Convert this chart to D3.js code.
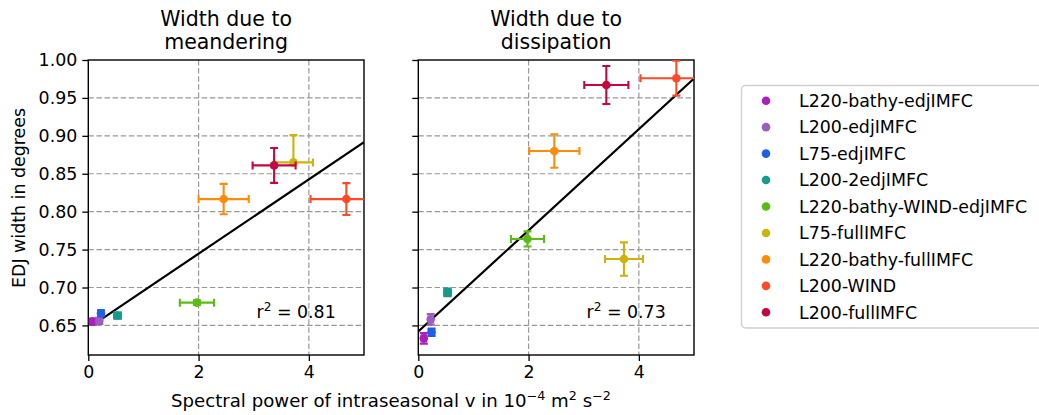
<!DOCTYPE html>
<html><head><meta charset="utf-8">
<script src="https://cdn.jsdelivr.net/npm/d3@7"></script>
<style>
body{margin:0;background:#fff;}
svg{display:block;font-family:"DejaVu Sans",sans-serif;}
</style></head>
<body><svg id="c" width="1039" height="415"></svg>
<script>
// ---- data ----
const experiments = ["L220-bathy-edjIMFC","L200-edjIMFC","L75-edjIMFC","L200-2edjIMFC","L220-bathy-WIND-edjIMFC","L75-fullIMFC","L220-bathy-fullIMFC","L200-WIND","L200-fullIMFC"];
const colors = ["#aa20bc","#9c5cc2","#1f5fe6","#159a8b","#5bbd14","#cdb30b","#ff8b0b","#fe4a28","#c5073f"];
const panelTitles = [["Width due to","meandering"],["Width due to","dissipation"]];
// spectral power (x) and EDJ width (y)
const meanderX    = [0.08,0.20,0.23,0.53,1.97,3.72,2.455,4.68,3.37];
const meanderXerr = [0.03,0.03,0.04,0.06,0.31,0.355,0.455,0.65,0.39];
const meanderY    = [0.655,0.656,0.666,0.663,0.680,0.865,0.8166,0.8166,0.861];
const meanderYerrLo = [0.004,0.004,0.004,0.004,0.003,0.002,0.020,0.021,0.023];
const meanderYerrHi = [0.004,0.004,0.004,0.004,0.003,0.036,0.020,0.021,0.023];
const dissipX    = [0.10,0.225,0.24,0.53,1.98,3.73,2.467,4.68,3.41];
const dissipXerr = [0.04,0.04,0.05,0.06,0.30,0.345,0.455,0.65,0.40];
const dissipY    = [0.633,0.658,0.641,0.6935,0.764,0.7375,0.880,0.976,0.967];
const dissipYerrLo = [0.007,0.007,0.005,0.005,0.010,0.022,0.022,0.023,0.025];
const dissipYerrHi = [0.007,0.007,0.005,0.005,0.010,0.022,0.022,0.023,0.025];
// regression lines: intercept, slope, x-range
const fitIntercept = [0.6466,0.642];
const fitSlope = [0.049,0.0667];
const fitRange = [[0.22,5],[0,5]];
const r2Labels = ["0.81","0.73"];
const r2Pos = [[3.05,0.6596],[3.05,0.6596]];
const xTicks = [0,2,4];
const yTicks = [0.65,0.70,0.75,0.80,0.85,0.90,0.95,1.00];
const xDomain = [0,5];
const yDomain = [0.611,1.0];

const panels = [
  {x:meanderX,xe:meanderXerr,y:meanderY,ylo:meanderYerrLo,yhi:meanderYerrHi},
  {x:dissipX,xe:dissipXerr,y:dissipY,ylo:dissipYerrLo,yhi:dissipYerrHi}
];

const svg = d3.select("#c");
const FS = 17.4;
const axLeft = [88.3, 418.3], axW = 275.7, axTop = 60, axH = 295;
const y = d3.scaleLinear().domain(yDomain).range([axTop+axH, axTop]);

panels.forEach((p,pi)=>{
  const x = d3.scaleLinear().domain(xDomain).range([axLeft[pi], axLeft[pi]+axW]);
  const g = svg.append("g");
  const clipId = "clip"+pi;
  svg.append("clipPath").attr("id",clipId).append("rect")
    .attr("x",axLeft[pi]).attr("y",axTop).attr("width",axW).attr("height",axH);
  // grid
  const grid = g.append("g").attr("stroke","#999").attr("stroke-width",1.2).attr("stroke-dasharray","5.5,2.6");
  xTicks.filter(t=>t>xDomain[0]).forEach(t=>grid.append("line").attr("x1",x(t)).attr("x2",x(t)).attr("y1",axTop).attr("y2",axTop+axH));
  yTicks.filter(t=>t<yDomain[1]).forEach(t=>grid.append("line").attr("x1",axLeft[pi]).attr("x2",axLeft[pi]+axW).attr("y1",y(t)).attr("y2",y(t)));
  // axes
  const xa = g.append("g").attr("transform",`translate(0,${axTop+axH})`)
    .call(d3.axisBottom(x).tickValues(xTicks).tickFormat(d3.format("d")).tickSize(6).tickPadding(5));
  const ya = g.append("g").attr("transform",`translate(${axLeft[pi]},0)`)
    .call(d3.axisLeft(y).tickValues(yTicks).tickFormat(pi===0?d3.format(".2f"):()=>"").tickSize(6).tickPadding(5));
  [xa,ya].forEach(a=>{
    a.select(".domain").remove();
    a.selectAll("line").attr("stroke","#000").attr("stroke-width",1.3);
    a.selectAll("text").attr("font-size",FS).attr("fill","#000").attr("font-family","DejaVu Sans");
  });
  // frame
  g.append("rect").attr("x",axLeft[pi]).attr("y",axTop).attr("width",axW).attr("height",axH)
    .attr("fill","none").attr("stroke","#000").attr("stroke-width",1.4);
  const plot = g.append("g").attr("clip-path",`url(#${clipId})`);
  // fit line
  plot.append("line")
    .attr("x1",x(fitRange[pi][0])).attr("y1",y(fitIntercept[pi]+fitSlope[pi]*fitRange[pi][0]))
    .attr("x2",x(fitRange[pi][1])).attr("y2",y(fitIntercept[pi]+fitSlope[pi]*fitRange[pi][1]))
    .attr("stroke","#000").attr("stroke-width",2.2);
  // error bars + markers
  const cap = 4;
  p.x.forEach((xv,i)=>{
    const c = colors[i];
    const eg = plot.append("g").attr("stroke",c).attr("stroke-width",2.1);
    const xl=x(xv-p.xe[i]), xr=x(xv+p.xe[i]), yc=y(p.y[i]);
    const yt=y(p.y[i]+p.yhi[i]), yb=y(p.y[i]-p.ylo[i]), xc=x(xv);
    eg.append("line").attr("x1",xc).attr("x2",xc).attr("y1",yt).attr("y2",yb);
    eg.append("line").attr("x1",xc-cap).attr("x2",xc+cap).attr("y1",yt).attr("y2",yt);
    eg.append("line").attr("x1",xc-cap).attr("x2",xc+cap).attr("y1",yb).attr("y2",yb);
    eg.append("line").attr("x1",xl).attr("x2",xr).attr("y1",yc).attr("y2",yc);
    eg.append("line").attr("x1",xl).attr("x2",xl).attr("y1",yc-cap).attr("y2",yc+cap);
    eg.append("line").attr("x1",xr).attr("x2",xr).attr("y1",yc-cap).attr("y2",yc+cap);
    plot.append("circle").attr("cx",xc).attr("cy",yc).attr("r",4.3).attr("fill",c);
  });
  // r^2 text
  const rt = g.append("text").attr("x",x(r2Pos[pi][0])).attr("y",y(r2Pos[pi][1]))
    .attr("font-size",FS).attr("fill","#000");
  rt.append("tspan").text("r");
  rt.append("tspan").attr("dy",-7).attr("font-size",FS*0.7).text("2");
  rt.append("tspan").attr("dy",7).text(" = "+r2Labels[pi]);
  // title
  const cx = axLeft[pi]+axW/2;
  panelTitles[pi].forEach((t,li)=>{
    svg.append("text").attr("x",cx).attr("y",26+li*22.8).attr("text-anchor","middle")
      .attr("font-size",20.5).attr("fill","#000").text(t);
  });
});

// y label
svg.append("text").attr("transform","translate(25,198) rotate(-90)").attr("text-anchor","middle")
  .attr("font-size",FS).attr("fill","#000").text("EDJ width in degrees");

// x label (condensed)
const xl = svg.append("text").attr("x",0).attr("y",0).attr("font-size",FS).attr("fill","#000")
  .attr("font-family","DejaVu Sans Condensed, DejaVu Sans");
xl.append("tspan").text("Spectral power of intraseasonal v in 10");
xl.append("tspan").attr("dy",-7).attr("font-size",FS*0.7).text("\u22124");
xl.append("tspan").attr("dy",7).text(" m");
xl.append("tspan").attr("dy",-7).attr("font-size",FS*0.7).text("2");
xl.append("tspan").attr("dy",7).text(" s");
xl.append("tspan").attr("dy",-7).attr("font-size",FS*0.7).text("\u22122");
const bb = xl.node().getBBox();
const targetW = 440, sx = targetW/bb.width;
xl.attr("transform",`translate(${171 - bb.x*sx},407) scale(${sx},1)`);

// legend
const lg = svg.append("g");
lg.append("rect").attr("x",741.5).attr("y",85.5).attr("width",320).attr("height",242.5).attr("rx",4)
  .attr("fill","#fff").attr("stroke","#d0d0d0").attr("stroke-width",1.4);
experiments.forEach((e,i)=>{
  const yy = 100.7 + i*26.45;
  lg.append("circle").attr("cx",766).attr("cy",yy).attr("r",4.3).attr("fill",colors[i]);
  lg.append("text").attr("x",799).attr("y",yy+6.3).attr("font-size",FS).attr("fill","#000").text(e);
});
</script></body></html>
